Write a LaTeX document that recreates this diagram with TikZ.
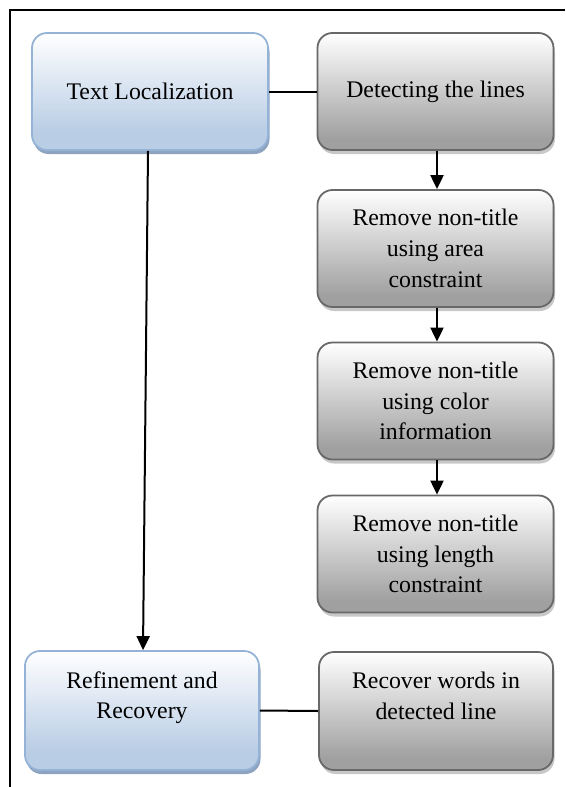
\documentclass[tikz,border=0pt]{standalone}
\usepackage{fontspec}
\setmainfont{Liberation Serif}
\usetikzlibrary{shadows,arrows.meta}
\definecolor{bluebot}{HTML}{B9CDE5}
\definecolor{blueborder}{HTML}{95B3D7}
\definecolor{blueshadow}{HTML}{8DA3C0}
\definecolor{graybot}{HTML}{A0A0A0}
\definecolor{grayborder}{HTML}{686868}
\definecolor{grayshadow}{HTML}{C8C8C8}
\pgfdeclareverticalshading{blueshade}{100bp}{color(0bp)=(bluebot); color(33bp)=(bluebot); color(75bp)=(white); color(100bp)=(white)}
\pgfdeclareverticalshading{grayshade}{100bp}{color(0bp)=(graybot); color(30bp)=(graybot); color(75bp)=(white); color(100bp)=(white)}
\tikzset{
  box/.style={rounded corners=15pt, minimum width=236pt, minimum height=117pt,
    align=center, inner sep=2pt, font=\fontsize{23.8}{30.7}\selectfont, line width=1.8pt},
  bluebox/.style={box, draw=blueborder, shading=blueshade,
    drop shadow={shadow xshift=1.5pt, shadow yshift=-4pt, fill=blueshadow, opacity=1}},
  graybox/.style={box, draw=grayborder, shading=grayshade,
    drop shadow={shadow xshift=1.5pt, shadow yshift=-4pt, fill=grayshadow, opacity=1}},
  conn/.style={line width=2pt, draw=black},
  arr/.style={conn, -{Triangle[length=14pt,width=13pt]}},
  frameline/.style={line width=2pt, draw=black}
}
\begin{document}
\begin{tikzpicture}[x=1pt, y=-1pt]
\useasboundingbox (0,0) rectangle (565,787);
\coordinate (ftr) at (565,9.5);
\coordinate (ftl) at (9.5,9.5);
\coordinate (fbl) at (9.5,787);
\draw[frameline] (ftr) -- (ftl) -- (fbl);

\node[bluebox] (tl) at (150,91.5) {Text Localization};
\node[graybox] (dl) at (435.5,91.5) {Detecting the lines};
\node[graybox] (area) at (435.5,248.5) {Remove non-title\\using area\\constraint};
\node[graybox] (color) at (435.5,401) {Remove non-title\\using color\\information};
\node[graybox] (len) at (435.5,554) {Remove non-title\\using length\\constraint};
\node[bluebox, minimum width=234pt, minimum height=119pt] (ref) at (142,710.5) {Refinement and\\Recovery\\~};
\node[graybox, minimum width=234pt, minimum height=118pt] (rec) at (436,711) {Recover words in\\detected line\\~};

\draw[conn] (tl.east) -- (dl.west);
\draw[arr] ([xshift=1.5pt]dl.south) -- ([xshift=1.5pt]area.north);
\draw[arr] ([xshift=1.5pt]area.south) -- ([xshift=1.5pt]color.north);
\draw[arr] ([xshift=1.5pt]color.south) -- ([xshift=1.5pt]len.north);
\draw[arr] ([xshift=-2pt]tl.south) -- ([xshift=1pt]ref.north);
\draw[conn] (ref.east) -- (rec.west);
\end{tikzpicture}
\end{document}
